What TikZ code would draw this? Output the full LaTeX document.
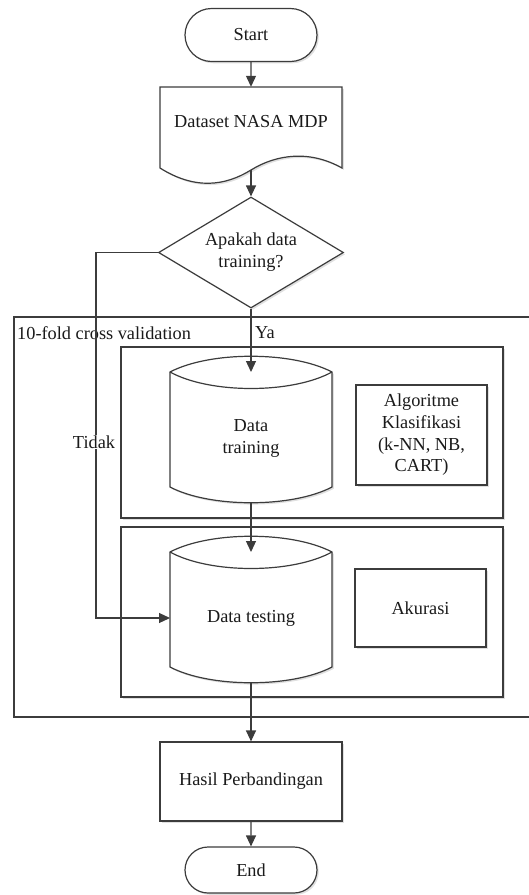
\documentclass[tikz,border=0pt]{standalone}
\usepackage{fontspec}
\setmainfont{Liberation Serif}
\usetikzlibrary{arrows.meta,shapes.geometric,shapes.misc,shadows}
\definecolor{lc}{HTML}{3C3C3C}
\definecolor{tc}{HTML}{1A1A1A}
\tikzset{
  ln/.style={draw=lc, line width=1.2pt},
  soft/.style={drop shadow={shadow xshift=1.8pt, shadow yshift=-1.8pt,
    fill=black, opacity=0.12}},
  arr/.style={ln, -{Triangle[length=11pt,width=10pt]}},
  box/.style={ln, rectangle, fill=white, inner sep=0pt, align=center, text=tc},
  term/.style={ln, rounded rectangle, fill=white, inner sep=0pt,
    minimum width=132pt, text=tc, soft},
  lbl/.style={inner sep=0pt, text=tc, align=center},
  % vertical drum (stored data), origin at the middle of the top rim
  drum/.pic={
    \path[fill=black, opacity=0.12, shift={(1.8,1.8)}]
      (-81,0) .. controls (-41,-21) and (41,-21) .. (81,0)
      -- (81,115) .. controls (41,136) and (-41,136) .. (-81,115) -- cycle;
    \path[ln, fill=white] (-81,0) .. controls (-41,-21) and (41,-21) .. (81,0)
      -- (81,115) .. controls (41,136) and (-41,136) .. (-81,115) -- cycle;
    \draw[ln] (-81,0) .. controls (-41,22) and (41,22) .. (81,0);
  }
}
\begin{document}
\begin{tikzpicture}[x=1pt, y=-1pt, font=\fontsize{18.3}{22}\selectfont]
\useasboundingbox (0,0) rectangle (528,895);

% frames of the cross validation block
\node[box, minimum width=560pt, minimum height=400pt] (cv) at (294,517) {};
\node[box, soft, minimum width=382pt, minimum height=171pt] (trainbox) at (312,432.5) {};
\node[box, soft, minimum width=382pt, minimum height=170pt] (testbox) at (312,612) {};
\node[lbl, anchor=west] (cvlabel) at (17,333) {10-fold cross validation};

% terminals
\node[term, minimum height=53pt] (start) at (251,35) {Start};
\node[term, minimum height=46pt] (end) at (251,870) {End};

% document shape with a wavy lower edge
\path[fill=black, opacity=0.12, shift={(1.8,1.8)}] (160,87) -- (342,87) -- (342,168)
  .. controls (310,150) and (277,154) .. (251,170)
  .. controls (225,186) and (195,190) .. (160,168) -- cycle;
\path[ln, fill=white] (160,87) -- (342,87) -- (342,168)
  .. controls (310,150) and (277,154) .. (251,170)
  .. controls (225,186) and (195,190) .. (160,168) -- cycle;
\node[lbl, minimum width=182pt, minimum height=70pt] (doc) at (251,122) {Dataset NASA MDP};
\coordinate (docb) at (251,170);

% decision
\node[diamond, ln, fill=white, soft, aspect=1.667, minimum width=185pt,
  minimum height=111pt, inner sep=0pt, align=center, text=tc] (dia) at (251,252.5)
  {Apakah data\\training?};

% data stores
\pic at (251,372) {drum};
\coordinate (trtop) at (251,372);
\coordinate (trbot) at (251,503);
\node[lbl] (train) at (251,438) {Data\\training};

\pic at (251,552) {drum};
\coordinate (tstop) at (251,552);
\coordinate (tsbot) at (251,683);
\coordinate (tsleft) at (170,618);
\node[lbl] (test) at (251,618) {Data testing};

% side boxes
\node[box, soft, minimum width=131pt, minimum height=100pt, font=\fontsize{18.3}{21.7}\selectfont]
  (algo) at (421.5,435) {Algoritme\\Klasifikasi\\(k-NN, NB,\\CART)};
\node[box, soft, minimum width=131pt, minimum height=78pt] (akurasi) at (420.5,608) {Akurasi};

% result
\node[box, soft, minimum width=182pt, minimum height=79pt] (hasil) at (251,781.5) {Hasil Perbandingan};

% connectors
\draw[arr] (start) -- (doc);
\draw[arr] (docb) -- (dia.north);
\draw[arr] (dia.south) -- (trtop);
\draw[arr] (trbot) -- (tstop);
\draw[arr] (tsbot) -- (hasil.north);
\draw[arr] (hasil) -- (end);
\coordinate (tbend) at (96,252.5);
\draw[arr] (dia.west) -- (tbend) |- (tsleft);

% branch labels
\node[lbl, anchor=west] (ya) at (255,333) {Ya};
\node[lbl, fill=white, inner sep=1pt] (tidak) at (94,442) {Tidak};
\end{tikzpicture}
\end{document}
